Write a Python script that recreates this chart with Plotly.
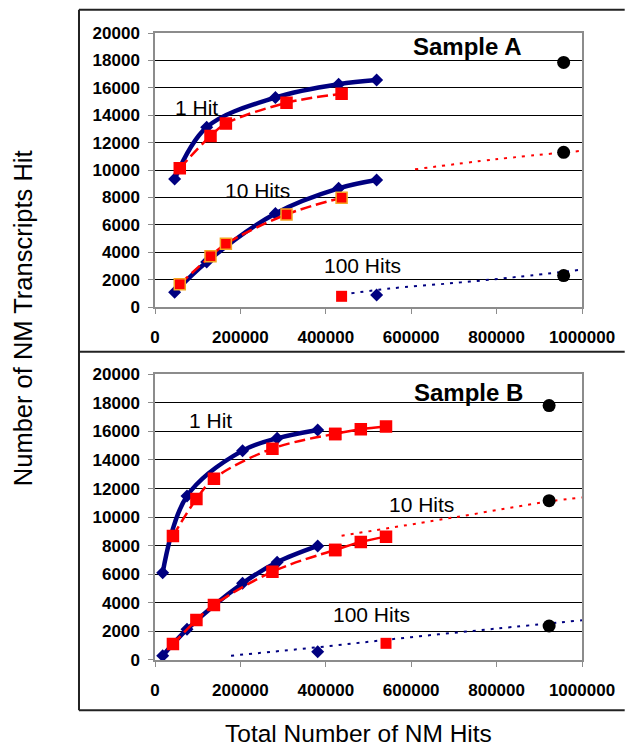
import plotly.graph_objects as go

# ---------------- Data ----------------
# Sample A
A_x_blue = [46000, 121000, 282000, 430000, 519000]
A_1hit_blue = [9341, 13122, 15293, 16268, 16561]
A_10hit_blue = [1073, 3293, 6829, 8659, 9268]
A_x_red = [58000, 130000, 166000, 308000, 437000]
A_1hit_red = [10122, 12488, 13390, 14902, 15561]
A_10hit_red = [1659, 3707, 4610, 6756, 7976]
A_100_red_x = [437000]
A_100_red_y = [780]
A_100_blue_x = [519000]
A_100_blue_y = [878]
A_circle_x = [957000, 957000, 957000]
A_circle_y = [17854, 11293, 2293]
A_trend10_x = [609000, 797000, 1000000]
A_trend10_y = [10050, 10780, 11400]
A_trend100_x = [460000, 550000, 700000, 850000, 1000000]
A_trend100_y = [1000, 1350, 1750, 2200, 2730]

# Sample B
B_x_blue = [18000, 75000, 205000, 286000, 381000]
B_1hit_blue = [6114, 11482, 14656, 15519, 16103]
B_10hit_blue = [303, 2147, 5368, 6838, 7981]
B_x_red = [42000, 97000, 138000, 275000, 422000, 482000, 541000]
B_1hit_red = [8681, 11272, 12695, 14796, 15823, 16149, 16336]
B_10hit_red = [1120, 2800, 3851, 6184, 7701, 8261, 8635]
B_100_red_x = [541000]
B_100_red_y = [1167]
B_100_blue_x = [381000]
B_100_blue_y = [583]
B_circle_x = [923000, 923000, 923000]
B_circle_y = [17806, 11155, 2380]
B_trend10_x = [437000, 700000, 923000, 1000000]
B_trend10_y = [8700, 9980, 11100, 11380]
B_trend100_x = [178000, 400000, 600000, 800000, 1000000]
B_trend100_y = [300, 950, 1600, 2200, 2780]

x_ticks = [0, 200000, 400000, 600000, 800000, 1000000]
y_ticks = [0, 2000, 4000, 6000, 8000, 10000, 12000, 14000, 16000, 18000, 20000]

NAVY = "#000080"
RED = "#FF0000"
ORANGE = "#F5A623"
FONT = "Liberation Sans, Arial, Helvetica, sans-serif"

fig = go.Figure()


def blue_curve(x, y, xa, ya):
    fig.add_trace(go.Scatter(x=x, y=y, xaxis=xa, yaxis=ya, mode="lines+markers",
                             line=dict(color=NAVY, width=4.5, shape="spline"),
                             marker=dict(symbol="diamond", size=10, color=NAVY),
                             showlegend=False))


def red_curve(x, y, xa, ya, outline=RED, dash="11px,5px"):
    fig.add_trace(go.Scatter(x=x, y=y, xaxis=xa, yaxis=ya, mode="lines+markers",
                             line=dict(color=RED, width=2.5, dash=dash, shape="spline"),
                             marker=dict(symbol="square", size=11, color=RED,
                                         line=dict(color=outline, width=1.5)),
                             showlegend=False))


def trend(x, y, xa, ya, color):
    fig.add_trace(go.Scatter(x=x, y=y, xaxis=xa, yaxis=ya, mode="lines",
                             line=dict(color=color, width=2, dash="3px,6px", shape="spline"),
                             showlegend=False))


def points(x, y, xa, ya, symbol, color, size):
    fig.add_trace(go.Scatter(x=x, y=y, xaxis=xa, yaxis=ya, mode="markers",
                             marker=dict(symbol=symbol, size=size, color=color),
                             showlegend=False))


# ---- Sample A (top) ----
trend(A_trend10_x, A_trend10_y, "x", "y", RED)
trend(A_trend100_x, A_trend100_y, "x", "y", NAVY)
blue_curve(A_x_blue, A_1hit_blue, "x", "y")
red_curve(A_x_red, A_1hit_red, "x", "y")
blue_curve(A_x_blue, A_10hit_blue, "x", "y")
red_curve(A_x_red, A_10hit_red, "x", "y", outline=ORANGE)
points(A_100_red_x, A_100_red_y, "x", "y", "square", RED, 11)
points(A_100_blue_x, A_100_blue_y, "x", "y", "diamond", NAVY, 10)
points(A_circle_x, A_circle_y, "x", "y", "circle", "black", 13)

# ---- Sample B (bottom) ----
trend(B_trend10_x, B_trend10_y, "x2", "y2", RED)
trend(B_trend100_x, B_trend100_y, "x2", "y2", NAVY)
blue_curve(B_x_blue, B_1hit_blue, "x2", "y2")
red_curve(B_x_red[:5], B_1hit_red[:5], "x2", "y2")
red_curve(B_x_red[4:], B_1hit_red[4:], "x2", "y2", dash="solid")
blue_curve(B_x_blue, B_10hit_blue, "x2", "y2")
red_curve(B_x_red[:5], B_10hit_red[:5], "x2", "y2")
red_curve(B_x_red[4:], B_10hit_red[4:], "x2", "y2", dash="solid")
points(B_100_red_x, B_100_red_y, "x2", "y2", "square", RED, 11)
points(B_100_blue_x, B_100_blue_y, "x2", "y2", "diamond", NAVY, 10)
points(B_circle_x, B_circle_y, "x2", "y2", "circle", "black", 13)

tickfont = dict(family=FONT, size=17, color="black", weight="bold")
xax = dict(range=[0, 1000000], tickvals=x_ticks, ticktext=[str(v) for v in x_ticks],
           showgrid=False, zeroline=False, showline=True, mirror=True,
           linecolor="#8c8c8c", linewidth=1.5, ticks="outside", ticklen=5,
           tickcolor="#8c8c8c", tickfont=tickfont, ticklabelstandoff=9)
yax = dict(range=[0, 20000], tickvals=y_ticks, ticktext=[str(v) for v in y_ticks],
           showgrid=True, gridcolor="black", gridwidth=1, zeroline=False,
           showline=True, mirror=True, linecolor="#8c8c8c", linewidth=1.5,
           ticks="outside", ticklen=5, tickcolor="#8c8c8c", tickfont=tickfont,
           ticklabelstandoff=5)

fig.update_layout(
    width=627, height=748,
    margin=dict(l=155, r=41, t=33, b=88),
    paper_bgcolor="white", plot_bgcolor="white",
    xaxis=dict(xax, domain=[0, 1], anchor="y"),
    yaxis=dict(yax, domain=[0.563, 1.0], anchor="x"),
    xaxis2=dict(xax, domain=[0, 1], anchor="y2"),
    yaxis2=dict(yax, domain=[0, 0.4557], anchor="x2"),
    font=dict(family=FONT, color="black"),
)

ann = []


def label(text, x, y, xr, yr, size=21, bold=False):
    ann.append(dict(text=f"<b>{text}</b>" if bold else text, x=x, y=y, xref=xr, yref=yr,
                    showarrow=False, font=dict(family=FONT, size=size, color="black"),
                    xanchor="center", yanchor="middle"))


label("Sample A", 730000, 19024, "x", "y", size=24, bold=True)
label("1 Hit", 97000, 14585, "x", "y")
label("10 Hits", 239000, 8488, "x", "y")
label("100 Hits", 487000, 3000, "x", "y")
label("Sample B", 735000, 18716, "x2", "y2", size=24, bold=True)
label("1 Hit", 131000, 16733, "x2", "y2")
label("10 Hits", 623000, 10852, "x2", "y2")
label("100 Hits", 506000, 3197, "x2", "y2")

ann.append(dict(text="Number of NM Transcripts Hit", x=-0.3086, y=0.5455, xref="paper",
                yref="paper", showarrow=False, textangle=-90,
                font=dict(family=FONT, size=25.5, color="black"),
                xanchor="center", yanchor="middle"))
ann.append(dict(text="Total Number of NM Hits", x=0.476, y=-0.118, xref="paper",
                yref="paper", showarrow=False,
                font=dict(family=FONT, size=24.5, color="black"),
                xanchor="center", yanchor="middle"))
fig.update_layout(annotations=ann)

# outer frame lines
frame = dict(color="#222222", width=2)
shapes = [
    dict(type="line", xref="paper", yref="paper", x0=-0.178, x1=1.1, y0=1.0372, y1=1.0372, line=frame),
    dict(type="line", xref="paper", yref="paper", x0=-0.178, x1=1.1, y0=0.4917, y1=0.4917, line=frame),
    dict(type="line", xref="paper", yref="paper", x0=-0.178, x1=1.1, y0=-0.0802, y1=-0.0802, line=frame),
    dict(type="line", xref="paper", yref="paper", x0=-0.178, x1=-0.178, y0=-0.0802, y1=1.0372, line=frame),
]
fig.update_layout(shapes=shapes)

fig.write_html("out.html", config={"displayModeBar": False},
               post_script="document.body.style.margin='0px';")
